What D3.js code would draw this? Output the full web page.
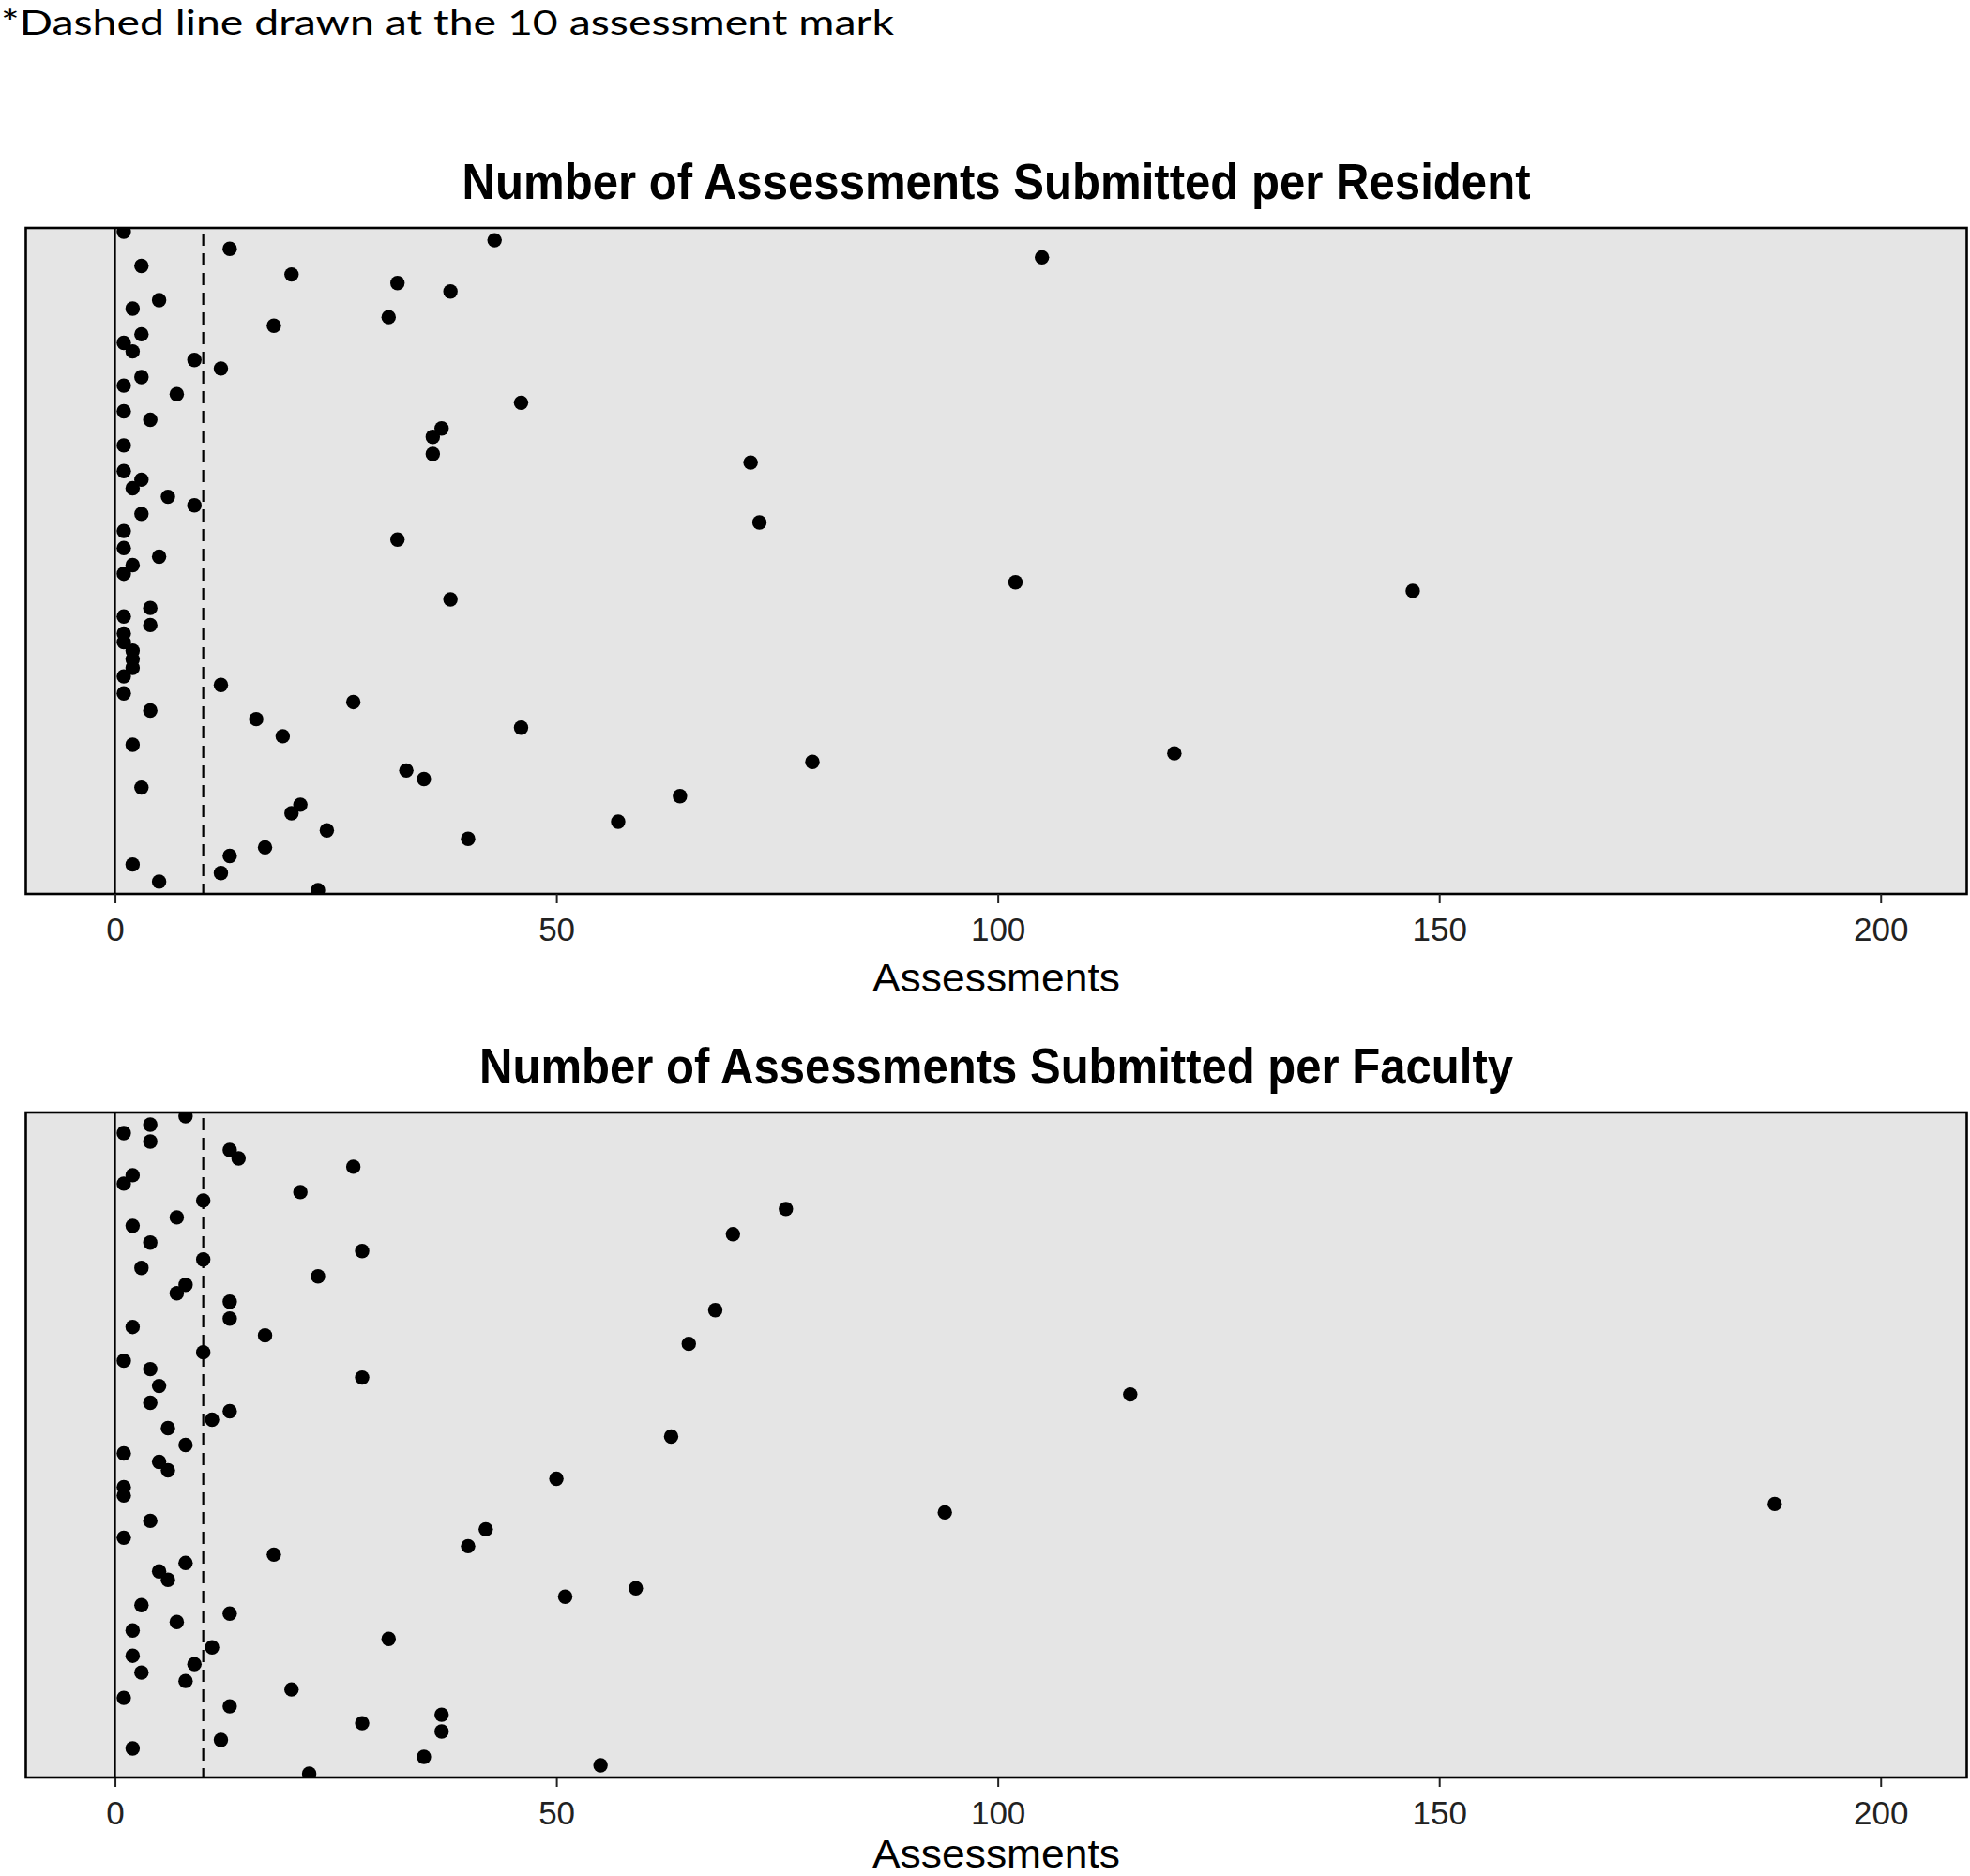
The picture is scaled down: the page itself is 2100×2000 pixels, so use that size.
<!DOCTYPE html>
<html lang="en">
<head>
    <meta charset="UTF-8">
    <title>Assessments Submitted per Resident and Faculty</title>
    <script type="text/javascript" src="https://d3js.org/d3.v7.min.js"></script>
    <style>
        body { margin: 0; background: #fff; }
    </style>
</head>
<body>

    <svg id="svg" width=2100 height=2000></svg>

    <script>
        // one value per resident / faculty member, listed top to bottom as plotted
        const residentCounts = [1, 43, 13, 105, 3, 20, 32, 38, 5, 2,
            31, 18, 3, 1, 2, 9, 12, 3, 1, 7,
            46, 1, 4, 37, 36, 1, 36, 72, 1, 3,
            2, 6, 9, 3, 73, 1, 32, 1, 5, 2,
            1, 102, 147, 38, 4, 1, 4, 1, 1, 2,
            2, 2, 1, 12, 1, 27, 4, 16, 46, 19,
            2, 120, 79, 33, 35, 3, 64, 21, 20, 57,
            24, 40, 17, 13, 2, 12, 5, 23];

        const facultyCounts = [8, 4, 1, 4, 13, 14, 27, 2, 1, 21,
            10, 76, 7, 2, 70, 4, 28, 10, 3, 23,
            8, 7, 13, 68, 13, 2, 17, 65, 10, 1,
            4, 28, 5, 115, 4, 13, 11, 6, 63, 8,
            1, 5, 6, 50, 1, 1, 188, 94, 4, 42,
            1, 40, 18, 8, 5, 6, 59, 51, 3, 13,
            7, 2, 31, 11, 2, 9, 3, 8, 20, 1,
            13, 37, 28, 37, 12, 2, 35, 55, 22];

        const xTicks = [0, 50, 100, 150, 200];
        const xDomain = [-10.1, 209.75];
        const cutoff = 10;
        const noteText = "*Dashed line drawn at the 10 assessment mark";
        const axisTitle = "Assessments";
        const residentTitle = "Number of Assessments Submitted per Resident";
        const facultyTitle = "Number of Assessments Submitted per Faculty";

        let svg = d3.select('svg');
        let width = +svg.attr('width');
        let height = +svg.attr('height');

        svg.append('rect')
            .attr('width', width)
            .attr('height', height)
            .attr('fill', '#ffffff');

        let x = d3.scaleLinear()
            .domain(xDomain)
            .range([27.5, 2096.5]);

        svg.append('text')
            .attr('x', 1)
            .attr('y', 37)
            .attr('textLength', 952)
            .attr('lengthAdjust', 'spacingAndGlyphs')
            .style('font-family', 'Lato, "Open Sans", sans-serif')
            .style('font-size', '36px')
            .attr('fill', '#000')
            .text(noteText);

        function drawPanel(counts, title, top, bottom, titleWidth, labelGap, id) {

            let y = d3.scaleLinear()
                .domain([0, counts.length - 1])
                .range([top + 4, bottom - 4]);

            let panel = svg.append('g');

            panel.append('clipPath')
                .attr('id', 'clip-' + id)
                .append('rect')
                .attr('x', x.range()[0])
                .attr('y', top)
                .attr('width', x.range()[1] - x.range()[0])
                .attr('height', bottom - top);

            panel.append('rect')
                .attr('x', x.range()[0])
                .attr('y', top)
                .attr('width', x.range()[1] - x.range()[0])
                .attr('height', bottom - top)
                .attr('fill', '#e5e5e5');

            // solid line at zero, dashed line at the cutoff
            panel.append('line')
                .attr('x1', x(0)).attr('x2', x(0))
                .attr('y1', top).attr('y2', bottom)
                .attr('stroke', '#000')
                .style('stroke-width', 2.2);

            panel.append('line')
                .attr('x1', x(cutoff)).attr('x2', x(cutoff))
                .attr('y1', top + 6).attr('y2', bottom)
                .attr('stroke', '#000')
                .attr('stroke-dasharray', '13,8')
                .style('stroke-width', 2.2);

            panel.append('g')
                .attr('clip-path', 'url(#clip-' + id + ')')
                .selectAll('circle')
                .data(counts)
                .enter()
                .append('circle')
                .attr('cx', d => x(d))
                .attr('cy', (d, i) => y(i))
                .attr('r', 7.7)
                .attr('fill', '#000');

            panel.append('rect')
                .attr('x', x.range()[0])
                .attr('y', top)
                .attr('width', x.range()[1] - x.range()[0])
                .attr('height', bottom - top)
                .attr('fill', 'none')
                .attr('stroke', '#000')
                .style('stroke-width', 2.6);

            let axis = panel.append('g')
                .attr('transform', `translate(0,${bottom})`)
                .call(d3.axisBottom(x).tickValues(xTicks).tickSize(10).tickPadding(15));

            axis.select('.domain').remove();
            axis.selectAll('.tick line')
                .attr('stroke', '#222')
                .style('stroke-width', 2);
            axis.selectAll('.tick text')
                .attr('fill', '#222')
                .style('font-family', '"Liberation Sans", Arial, sans-serif')
                .style('font-size', '35px');

            panel.append('text')
                .attr('x', (x.range()[0] + x.range()[1]) / 2)
                .attr('y', bottom + labelGap)
                .attr('text-anchor', 'middle')
                .attr('textLength', 264)
                .attr('lengthAdjust', 'spacingAndGlyphs')
                .style('font-family', '"Liberation Sans", Arial, sans-serif')
                .style('font-size', '42px')
                .attr('fill', '#000')
                .text(axisTitle);

            panel.append('text')
                .attr('x', (x.range()[0] + x.range()[1]) / 2)
                .attr('y', top - 31)
                .attr('text-anchor', 'middle')
                .attr('textLength', titleWidth)
                .attr('lengthAdjust', 'spacingAndGlyphs')
                .style('font-family', '"Liberation Sans", Arial, sans-serif')
                .style('font-weight', 'bold')
                .style('font-size', '54px')
                .attr('fill', '#000')
                .text(title);
        }

        drawPanel(residentCounts, residentTitle, 243, 953, 1139, 104, 'resident');
        drawPanel(facultyCounts, facultyTitle, 1186, 1895, 1102, 96, 'faculty');

    </script>

</body>
</html>
